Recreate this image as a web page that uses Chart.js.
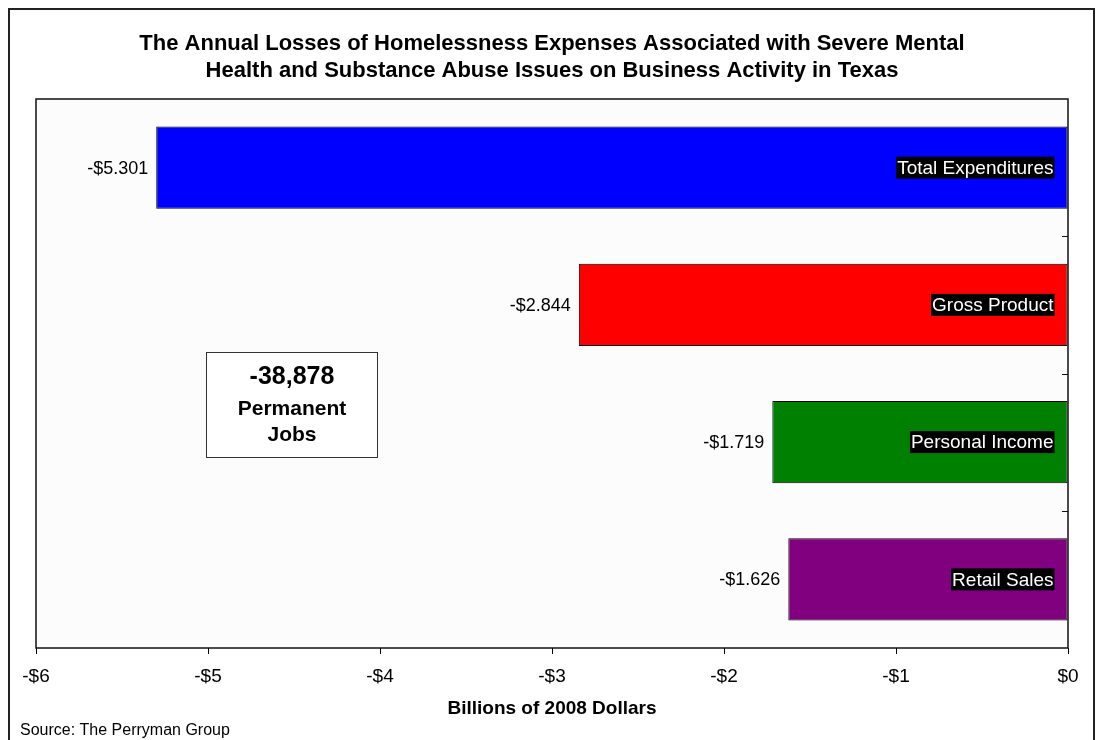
<!DOCTYPE html>
<html>
<head>
<meta charset="utf-8">
<script src="https://cdn.jsdelivr.net/npm/chart.js@4"></script>
<style>
  html, body { margin: 0; padding: 0; background: #fff; }
  #wrap { width: 1096px; height: 740px; }
</style>
</head>
<body>
<div id="wrap"><canvas id="myChart" width="1096" height="740"></canvas></div>
<script>
const categories = ["Total Expenditures", "Gross Product", "Personal Income", "Retail Sales"];
const losses = [-5.301, -2.844, -1.719, -1.626];
const barColors = ["#0000ff", "#ff0000", "#008000", "#800080"];
const titleLines = [
  "The Annual Losses of Homelessness Expenses Associated with Severe Mental",
  "Health and Substance Abuse Issues on Business Activity in Texas"
];
const jobsNote = ["-38,878", "Permanent", "Jobs"];
const axisTitle = "Billions of 2008 Dollars";
const sourceNote = "Source: The Perryman Group";

const FONT = "'Liberation Sans', Arial, sans-serif";

function money(v) {
  const s = v < 0 ? "-" : "";
  return s + "$" + Math.abs(v);
}

const decorPlugin = {
  id: "decor",
  beforeDraw(chart) {
    const { ctx, chartArea: a } = chart;
    ctx.save();
    ctx.fillStyle = "#ffffff";
    ctx.fillRect(0, 0, chart.width, chart.height);
    ctx.fillStyle = "#fcfcfc";
    ctx.fillRect(a.left, a.top, a.right - a.left, a.bottom - a.top);
    ctx.restore();
  },
  afterDraw(chart) {
    const { ctx, chartArea: a } = chart;
    const yScale = chart.scales.y;
    ctx.save();

    // outer frame
    ctx.strokeStyle = "#222";
    ctx.lineWidth = 2;
    ctx.strokeRect(9, 9, 1085, 760);

    // plot frame
    ctx.lineWidth = 1.5;
    ctx.strokeStyle = "#111";
    ctx.strokeRect(a.left, a.top, a.right - a.left, a.bottom - a.top);

    // inward ticks on the category axis between bars
    ctx.lineWidth = 1;
    for (let i = 1; i < categories.length; i++) {
      const y = Math.round((yScale.getPixelForValue(i - 1) + yScale.getPixelForValue(i)) / 2) + 0.5;
      ctx.beginPath();
      ctx.moveTo(a.right - 6, y);
      ctx.lineTo(a.right, y);
      ctx.stroke();
    }

    // title
    ctx.fillStyle = "#000";
    ctx.textAlign = "center";
    ctx.textBaseline = "middle";
    ctx.font = "bold 22px " + FONT;
    ctx.fillText(titleLines[0], 552, 44);
    ctx.fillText(titleLines[1], 552, 71);

    // axis title
    ctx.font = "bold 19px " + FONT;
    ctx.fillText(axisTitle, (a.left + a.right) / 2, 709);

    // source
    ctx.textAlign = "left";
    ctx.font = "16px " + FONT;
    ctx.fillText(sourceNote, 20, 731);

    // bar labels
    const meta = chart.getDatasetMeta(0);
    meta.data.forEach((bar, i) => {
      ctx.font = "18px " + FONT;
      ctx.fillStyle = "#000";
      ctx.textAlign = "right";
      ctx.fillText(money(losses[i]), bar.x - 8, bar.y + 1);

      ctx.font = "19px " + FONT;
      const w = ctx.measureText(categories[i]).width;
      const rx = bar.base - 14;
      ctx.fillStyle = "#000";
      ctx.fillRect(rx - w - 1, bar.y - 11, w + 2, 22);
      ctx.fillStyle = "#fff";
      ctx.fillText(categories[i], rx, bar.y + 1);
    });

    // jobs note box
    ctx.fillStyle = "#fff";
    ctx.fillRect(206, 352, 171, 105);
    ctx.strokeStyle = "#333";
    ctx.lineWidth = 1;
    ctx.strokeRect(206.5, 352.5, 171, 105);
    ctx.fillStyle = "#000";
    ctx.textAlign = "center";
    ctx.font = "bold 25px " + FONT;
    ctx.fillText(jobsNote[0], 292, 377);
    ctx.font = "bold 21px " + FONT;
    ctx.fillText(jobsNote[1], 292, 409);
    ctx.fillText(jobsNote[2], 292, 435);

    ctx.restore();
  }
};

new Chart(document.getElementById("myChart"), {
  type: "bar",
  data: {
    labels: categories,
    datasets: [{
      data: losses,
      backgroundColor: barColors,
      borderColor: "#000",
      borderWidth: 1,
      borderSkipped: false,
      barPercentage: 0.6,
      categoryPercentage: 1
    }]
  },
  options: {
    indexAxis: "y",
    responsive: false,
    animation: false,
    layout: { padding: { left: 36, top: 99, right: 28, bottom: 0 } },
    plugins: {
      legend: { display: false },
      title: { display: false },
      tooltip: { enabled: false }
    },
    scales: {
      x: {
        min: -6,
        max: 0,
        ticks: {
          stepSize: 1,
          padding: 11,
          color: "#000",
          font: { family: FONT, size: 19 },
          callback: (v) => money(v)
        },
        grid: { display: true, drawOnChartArea: false, tickLength: 6, color: "#000" },
        border: { display: false },
        afterFit(scale) { scale.height = 92; }
      },
      y: {
        position: "right",
        ticks: { display: false },
        grid: { display: false },
        border: { display: false },
        afterFit(scale) { scale.width = 0; }
      }
    }
  },
  plugins: [decorPlugin]
});
</script>
</body>
</html>
